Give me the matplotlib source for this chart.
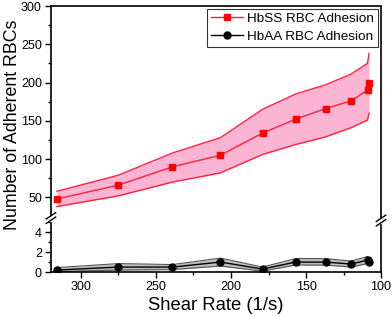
import numpy as np
import matplotlib.pyplot as plt
from matplotlib.ticker import MultipleLocator

plt.rcParams['font.family'] = ['Liberation Sans', 'DejaVu Sans']

# 데이터
shear = [316, 275, 239, 207, 179, 157, 137, 120, 109, 108]
hbss = [48, 66, 90, 105, 134, 152, 166, 176, 190, 200]
hbss_hi = [58, 79, 108, 128, 165, 185, 197, 211, 225, 238]
hbss_lo = [38, 52, 70, 82, 106, 119, 129, 141, 151, 160]
hbaa = [0.2, 0.5, 0.5, 1.0, 0.3, 1.0, 1.0, 0.8, 1.2, 1.0]
hbaa_hi = [0.45, 0.85, 0.75, 1.4, 0.5, 1.35, 1.35, 1.1, 1.55, 1.3]
hbaa_lo = [0.05, 0.2, 0.25, 0.6, 0.1, 0.7, 0.7, 0.5, 0.85, 0.7]

fig = plt.figure(figsize=(3.92, 3.16), dpi=100)
ax1 = fig.add_axes([0.130, 0.310, 0.842, 0.671])
ax2 = fig.add_axes([0.130, 0.139, 0.842, 0.171], sharex=ax1)

# 상단: HbSS
ax1.fill_between(shear, hbss_lo, hbss_hi, color='#fbb4d2', lw=0)
ax1.plot(shear, hbss_hi, color='#ff2040', lw=1)
ax1.plot(shear, hbss_lo, color='#ff2040', lw=1)
l1, = ax1.plot(shear, hbss, color='#ff1f3a', lw=1, marker='s', ms=5,
               mfc='#ff0000', mec='#ff0000', label='HbSS RBC Adhesion')

# 하단: HbAA
ax2.fill_between(shear, hbaa_lo, hbaa_hi, color='#bdbdbd', lw=0)
ax2.plot(shear, hbaa_hi, color='#555555', lw=0.8)
ax2.plot(shear, hbaa_lo, color='#555555', lw=0.8)
l2, = ax2.plot(shear, hbaa, color='black', lw=1, marker='o', ms=5,
               label='HbAA RBC Adhesion')

ax1.set_xlim(320, 100)
ax1.set_ylim(23, 300)
ax2.set_ylim(0, 5.4)

ax1.yaxis.set_major_locator(MultipleLocator(50))
ax1.yaxis.set_minor_locator(MultipleLocator(25))
ax2.yaxis.set_major_locator(MultipleLocator(2))
ax2.yaxis.set_minor_locator(MultipleLocator(1))
ax2.xaxis.set_major_locator(MultipleLocator(50))
ax2.xaxis.set_minor_locator(MultipleLocator(25))

for ax in (ax1, ax2):
    for s in ax.spines.values():
        s.set_linewidth(1.2)
    ax.tick_params(which='major', direction='out', length=4, width=1,
                   labelsize=9, pad=2.5)
    ax.tick_params(which='minor', direction='out', length=2.5, width=1)

ax1.spines['bottom'].set_visible(False)
ax2.spines['top'].set_visible(False)
ax1.tick_params(axis='x', which='both', bottom=False, labelbottom=False)

# 축 끊김 표시
kw = dict(transform=fig.transFigure, color='black', lw=1, clip_on=False, zorder=6)
for xb, yb in ((0.130, 0.310), (0.972, 0.302)):
    fig.add_artist(plt.Rectangle((xb - 0.004, yb - 0.008), 0.008, 0.016,
                                 transform=fig.transFigure, color='white', zorder=5))
    for off in (-0.007, 0.007):
        fig.add_artist(plt.Line2D([xb - 0.012, xb + 0.012],
                                  [yb + off - 0.01, yb + off + 0.01], **kw))

ax2.set_xlabel('Shear Rate (1/s)', fontsize=13.3, labelpad=3)
fig.text(0.031, 0.604, 'Number of Adherent RBCs', rotation=90, fontsize=12.8,
         ha='center', va='center')

leg = ax1.legend(handles=[l1, l2], loc='upper right', fontsize=9.7, frameon=True,
                 fancybox=False, edgecolor='black', handlelength=2.4,
                 borderpad=0.3, labelspacing=0.4, handletextpad=0.3,
                 borderaxespad=0.2)
leg.get_frame().set_linewidth(0.8)

plt.savefig('out.png', dpi=100)
